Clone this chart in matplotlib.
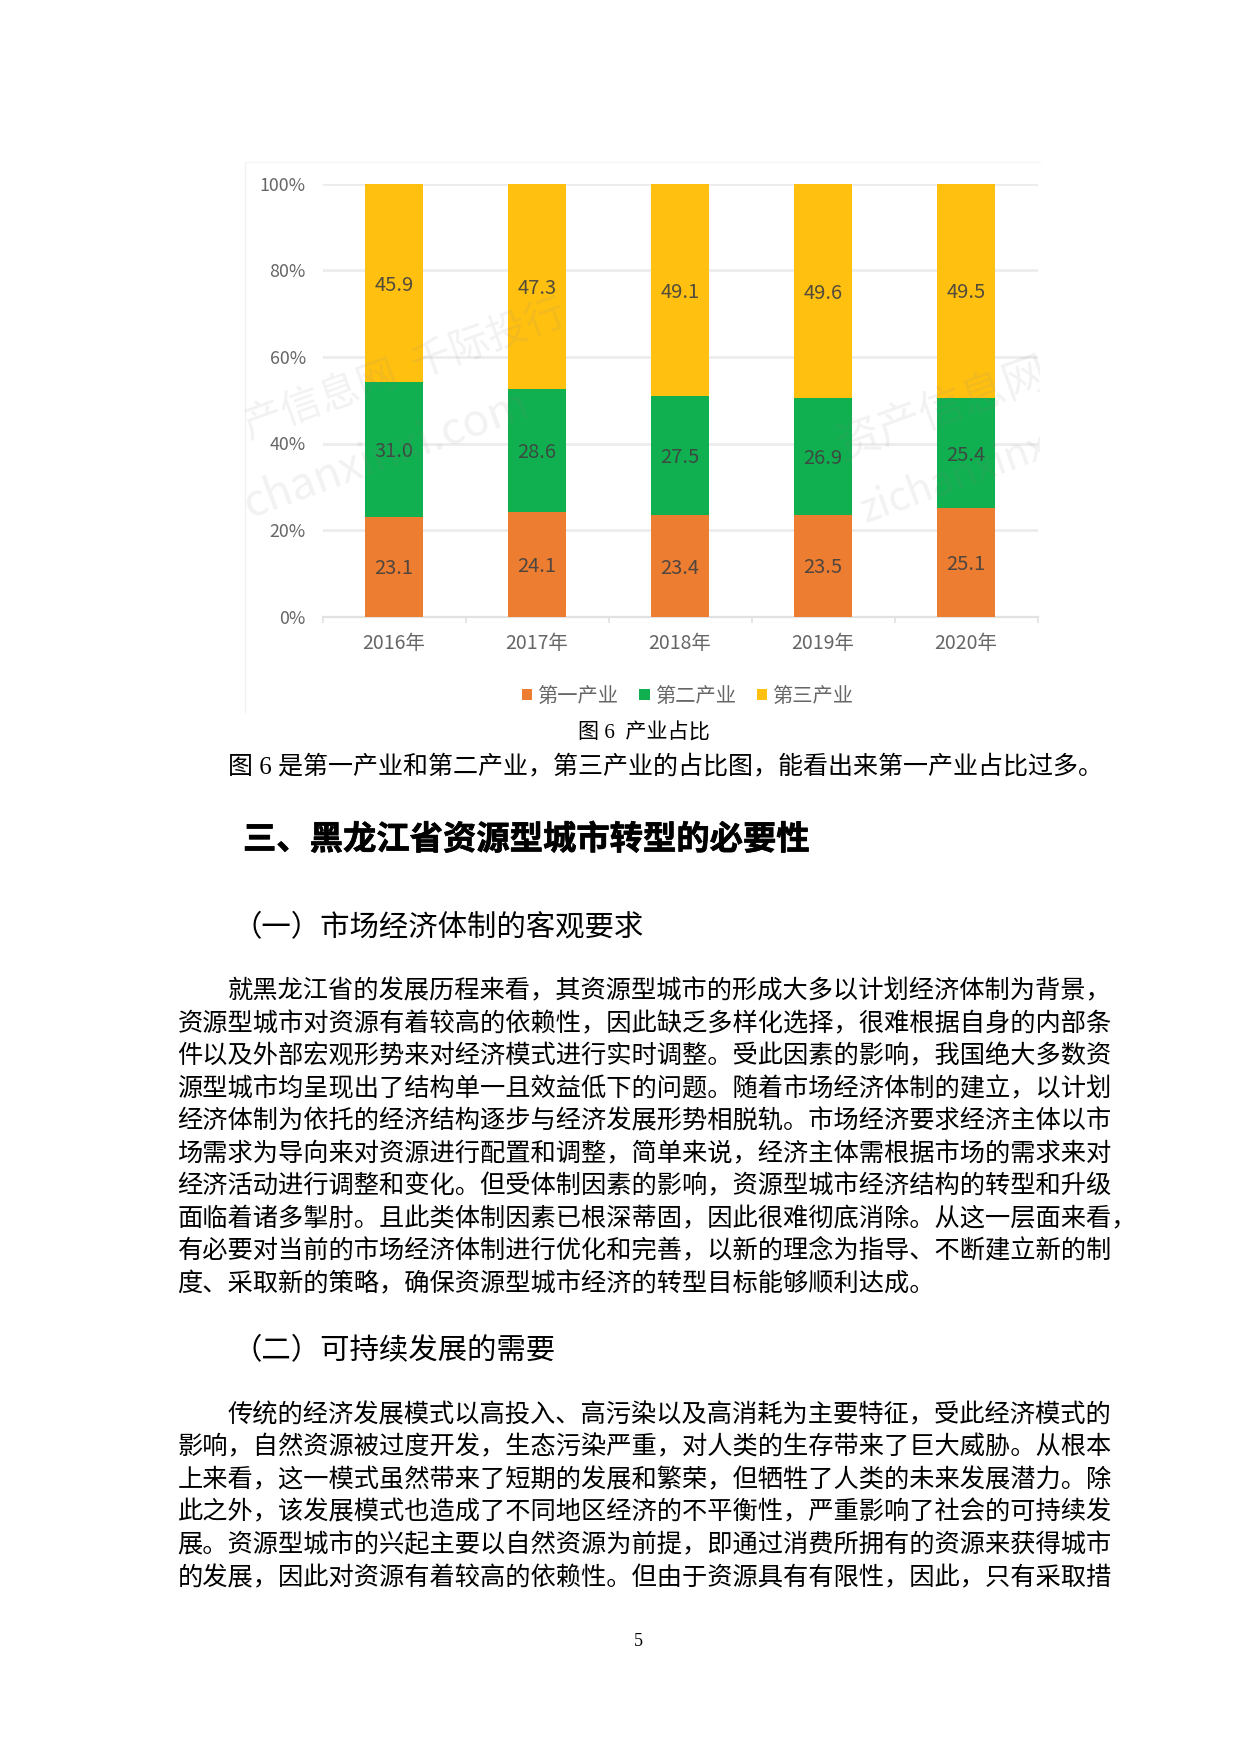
import matplotlib
matplotlib.use("Agg")
import matplotlib.pyplot as plt
import matplotlib.patheffects as pe
import numpy as np
from matplotlib.patches import Rectangle

plt.rcParams['font.family'] = ['Noto Sans CJK SC', 'DejaVu Sans']

years = ['2016年', '2017年', '2018年', '2019年', '2020年']
primary = [23.1, 24.1, 23.4, 23.5, 25.1]
secondary = [31.0, 28.6, 27.5, 26.9, 25.4]
tertiary = [45.9, 47.3, 49.1, 49.6, 49.5]
series_names = ['第一产业', '第二产业', '第三产业']
y_ticks = [0, 20, 40, 60, 80, 100]
y_tick_labels = ['0%', '20%', '40%', '60%', '80%', '100%']

caption = '图 6  产业占比'
intro = '图 6 是第一产业和第二产业，第三产业的占比图，能看出来第一产业占比过多。'
heading = '三、黑龙江省资源型城市转型的必要性'
sub_one = '（一）市场经济体制的客观要求'
sub_two = '（二）可持续发展的需要'
para_one = [
    '就黑龙江省的发展历程来看，其资源型城市的形成大多以计划经济体制为背景，',
    '资源型城市对资源有着较高的依赖性，因此缺乏多样化选择，很难根据自身的内部条',
    '件以及外部宏观形势来对经济模式进行实时调整。受此因素的影响，我国绝大多数资',
    '源型城市均呈现出了结构单一且效益低下的问题。随着市场经济体制的建立，以计划',
    '经济体制为依托的经济结构逐步与经济发展形势相脱轨。市场经济要求经济主体以市',
    '场需求为导向来对资源进行配置和调整，简单来说，经济主体需根据市场的需求来对',
    '经济活动进行调整和变化。但受体制因素的影响，资源型城市经济结构的转型和升级',
    '面临着诸多掣肘。且此类体制因素已根深蒂固，因此很难彻底消除。从这一层面来看，',
    '有必要对当前的市场经济体制进行优化和完善，以新的理念为指导、不断建立新的制',
    '度、采取新的策略，确保资源型城市经济的转型目标能够顺利达成。',
]
para_two = [
    '传统的经济发展模式以高投入、高污染以及高消耗为主要特征，受此经济模式的',
    '影响，自然资源被过度开发，生态污染严重，对人类的生存带来了巨大威胁。从根本',
    '上来看，这一模式虽然带来了短期的发展和繁荣，但牺牲了人类的未来发展潜力。除',
    '此之外，该发展模式也造成了不同地区经济的不平衡性，严重影响了社会的可持续发',
    '展。资源型城市的兴起主要以自然资源为前提，即通过消费所拥有的资源来获得城市',
    '的发展，因此对资源有着较高的依赖性。但由于资源具有有限性，因此，只有采取措',
]

W, H = 1240, 1754
body_fonts = ['Liberation Serif', 'Noto Sans CJK SC', 'DejaVu Sans']
grey = '#666666'

fig = plt.figure(figsize=(W / 100, H / 100), dpi=100, facecolor='white')

# the chart, placed in page pixels
ax = fig.add_axes([322.5 / W, 1 - 616.7 / H, 715 / W, 433 / H])
x = np.arange(len(years))
bottom = np.zeros(len(years))
for vals, name, col in zip([primary, secondary, tertiary], series_names, ['#ED7D31', '#10AF50', '#FFC010']):
    bars = ax.bar(x, vals, 0.405, bottom=bottom, color=col, label=name, zorder=3)
    ax.bar_label(bars, fmt='%.1f', label_type='center', padding=-1.5, fontsize=14.5, color='#404040',
                 alpha=0.9, zorder=4)
    bottom += np.array(vals)

ax.set_xlim(-0.5, 4.5)
ax.set_ylim(0, 100)
ax.set_yticks(y_ticks, y_tick_labels, fontsize=12.8, color=grey)
ax.set_xticks(x, years, fontsize=14, color=grey)
ax.set_xticks(np.arange(-0.5, 5), minor=True)
ax.tick_params(axis='y', length=0, pad=12)
ax.tick_params(axis='x', which='major', length=0, pad=12)
ax.tick_params(axis='x', which='minor', length=4, width=1.2, color='#e2e2e2')
ax.grid(axis='y', color='#ececec', lw=2, zorder=0)
for side in ['top', 'left', 'right']:
    ax.spines[side].set_visible(False)
ax.spines['bottom'].set_color('#e2e2e2')
ax.spines['bottom'].set_linewidth(1.6)
ax.patch.set_alpha(0)

fig.legend(loc='center', bbox_to_anchor=(687.5 / W, 1 - 696 / H), ncol=3, frameon=False, fontsize=14.6,
           labelcolor=grey, handlelength=0.5, handleheight=0.5, handletextpad=0.25, columnspacing=1.05)

# page layer for the document text
page = fig.add_axes([0, 0, 1, 1], facecolor='none')
page.set_xlim(0, W)
page.set_ylim(H, 0)
page.axis('off')

# faint edges of the pasted picture
page.plot([245, 245], [162, 712], color='#f1f1f1', lw=1)
page.plot([245, 1040], [162, 162], color='#f7f7f7', lw=1)

# watermark, cut off at the picture edge
clip = Rectangle((245, 162), 795, 550, transform=page.transData)
for s, wx, wy, size in [('产信息网  千际投行', 245, 428, 29), ('chanxinxi.com', 245, 505, 32),
                        ('资产信息网', 838, 447, 32), ('zichanxinxi', 862, 512, 29)]:
    t = page.text(wx, wy, s, fontsize=size, color='#888888', alpha=0.11, rotation=20,
                  ha='left', va='center', rotation_mode='anchor', clip_on=True)
    t.set_clip_path(clip)

page.text(644, 734, caption, fontsize=15.2, family=body_fonts, ha='center', va='center', color='black')
page.text(228, 767, intro, fontsize=18, family=body_fonts, ha='left', va='center', color='black')
page.text(243, 840, heading, fontsize=24, weight='bold', ha='left', va='center', color='black',
          path_effects=[pe.withStroke(linewidth=0.5, foreground='black')])
page.text(232.5, 928, sub_one, fontsize=21.2, ha='left', va='center', color='black')

for i, line in enumerate(para_one):
    page.text(228 if i == 0 else 177.5, 991.5 + i * 32.5, line, fontsize=18.2, ha='left', va='center', color='black')

page.text(232.5, 1351, sub_two, fontsize=21.2, ha='left', va='center', color='black')

for i, line in enumerate(para_two):
    page.text(228 if i == 0 else 177.5, 1415 + i * 32.6, line, fontsize=18.2, ha='left', va='center', color='black')

page.text(638, 1642, '5', fontsize=13, family=body_fonts, ha='center', va='center', color='black')

fig.savefig('out.png', dpi=100)
